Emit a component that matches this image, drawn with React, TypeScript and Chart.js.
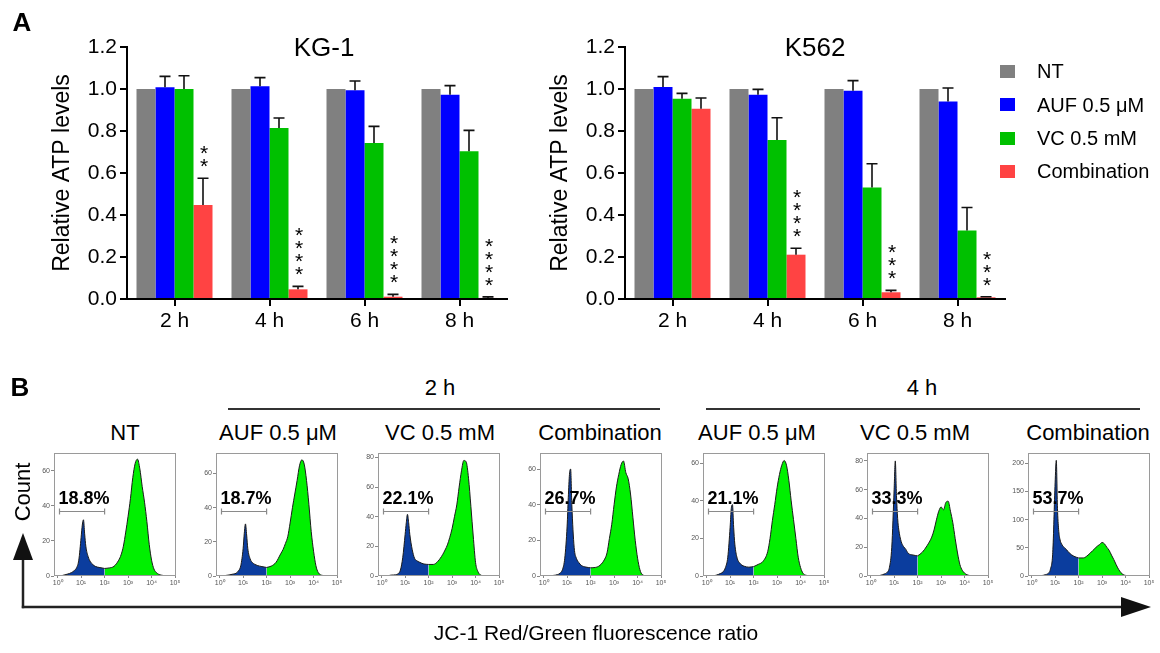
import React, { useEffect, useRef } from "react";
import { Chart, registerables } from "chart.js";

Chart.register(...registerables);

const FONT = "'Liberation Sans', Arial, Helvetica, sans-serif";

// ---------------- Panel A data ----------------
const TIME_POINTS = ["2 h", "4 h", "6 h", "8 h"];
const SERIES_LABELS = ["NT", "AUF 0.5 μM", "VC 0.5 mM", "Combination"];
const SERIES_COLORS = ["#808080", "#0000ff", "#00c000", "#ff4343"];
const Y_TICK_MIN = 0;
const Y_TICK_MAX = 1.2;
const Y_TICK_STEP = 0.2;

const KG1_NT = [1.0, 1.0, 1.0, 1.0];
const KG1_AUF = [1.008, 1.013, 0.994, 0.973];
const KG1_VC = [1.0, 0.814, 0.743, 0.703];
const KG1_COMB = [0.448, 0.046, 0.011, 0.005];
const KG1_NT_SD = [0, 0, 0, 0];
const KG1_AUF_SD = [0.052, 0.041, 0.044, 0.043];
const KG1_VC_SD = [0.063, 0.048, 0.079, 0.1];
const KG1_COMB_SD = [0.127, 0.014, 0.011, 0.005];
const KG1_STARS = [2, 4, 4, 4];

const K562_NT = [1.0, 1.0, 1.0, 1.0];
const K562_AUF = [1.01, 0.973, 0.992, 0.941];
const K562_VC = [0.954, 0.757, 0.531, 0.326];
const K562_COMB = [0.906, 0.211, 0.032, 0.008];
const K562_NT_SD = [0, 0, 0, 0];
const K562_AUF_SD = [0.049, 0.025, 0.048, 0.064];
const K562_VC_SD = [0.025, 0.106, 0.113, 0.11];
const K562_COMB_SD = [0.051, 0.031, 0.009, 0.003];
const K562_STARS = [0, 4, 3, 3];

// ---------------- Panel B data ----------------
// log10 of JC-1 red/green ratio at which counts were read
const FL_EXPONENTS = [0, 0.2, 0.4, 0.6, 0.7, 0.8, 0.9, 1.0, 1.05, 1.1, 1.15, 1.2, 1.3, 1.4, 1.5, 1.6, 1.8, 2.0, 2.2, 2.4, 2.6, 2.7, 2.8, 2.9, 3.0, 3.1, 3.2, 3.3, 3.4, 3.5, 3.6, 3.7, 3.8, 3.9, 4.0, 4.1, 4.2, 4.4, 4.7, 5.0];
const NT_COUNTS = [0, 0.3, 1, 2, 3, 4.5, 9, 22, 29, 32, 24, 17, 11, 8, 6.5, 5.5, 4.8, 4.3, 4.6, 5.5, 9, 12, 17, 25, 34, 44, 56, 64, 66.5, 61, 51, 42, 31, 18, 9, 4, 2, 0.5, 0.1, 0];
const AUF_2H_COUNTS = [0, 0.2, 0.6, 1.2, 1.6, 3, 6, 16, 25, 30.5, 24, 16, 10, 7.8, 6.8, 6.2, 5.5, 5.0, 5.8, 8, 13, 15.5, 19, 23, 31, 40, 48, 56, 64.5, 68, 65.5, 56, 42, 26, 14.5, 6, 2, 0.3, 0, 0];
const VC_2H_COUNTS = [0, 0, 0.6, 0.8, 1.5, 4, 12.6, 28, 36, 41.6, 36, 28, 18, 12, 10.3, 9.4, 8.1, 7.8, 7.8, 10, 14.5, 17.5, 21, 26, 32, 40, 48, 60, 71, 78, 77, 66, 47, 27, 9, 3, 0.8, 0.1, 0, 0];
const COMB_2H_COUNTS = [0, 0, 0.3, 0.8, 1.6, 3.5, 10, 28, 44, 57, 60, 40, 16, 9.8, 7.5, 6, 5, 4.6, 4.8, 6, 9.5, 13, 21, 29, 40, 50, 57, 62.5, 64.5, 58, 54.5, 46, 33, 20, 10, 3.5, 0.8, 0.1, 0, 0];
const AUF_4H_COUNTS = [0, 0, 0.4, 1.4, 2.2, 4.5, 10, 26, 36, 38, 26, 17, 9.5, 7, 5.8, 5.2, 4.7, 5, 6.2, 7.8, 13, 20, 29.6, 38, 47, 54, 59, 61.5, 59, 51, 40, 30, 20, 10, 4.5, 1.5, 0.5, 0.1, 0, 0];
const VC_4H_COUNTS = [0, 0, 0.4, 1.5, 2.5, 6, 20, 60, 80, 56, 40, 32, 24, 20.5, 18.5, 15.8, 14.6, 14, 16.5, 21, 27, 32, 39, 45, 48, 46, 51, 52, 45, 37, 26, 16, 8, 4, 2, 0.9, 0.4, 0.1, 0, 0];
const COMB_4H_COUNTS = [0, 0, 0.5, 2.5, 4.5, 12, 42, 165, 205, 120, 82, 66, 55, 50, 46, 41, 35, 32, 32, 37, 45, 49, 53, 56, 59.5, 57, 51, 45.5, 37, 29, 20, 12, 6, 2.5, 1, 0.4, 0.2, 0, 0, 0];

const HIST_COUNTS = [NT_COUNTS, AUF_2H_COUNTS, VC_2H_COUNTS, COMB_2H_COUNTS, AUF_4H_COUNTS, VC_4H_COUNTS, COMB_4H_COUNTS];
const HIST_LABELS = ["NT", "AUF 0.5 μM", "VC 0.5 mM", "Combination", "AUF 0.5 μM", "VC 0.5 mM", "Combination"];
const HIST_PERCENTS = ["18.8%", "18.7%", "22.1%", "26.7%", "21.1%", "33.3%", "53.7%"];
const HIST_YMAX = [70, 72, 83, 69, 65.5, 85.5, 218];
const HIST_YSTEP = [20, 20, 20, 20, 20, 20, 50];
const HIST_DECADES = [1, 10, 100, 1000, 10000, 100000];
const GATE_LOW = 1.2;
const GATE_HIGH = 100;
const SPLIT_EXPONENT = 2.0;

// ---------------- layout (not data) ----------------
const HIST_BOX_LEFT = [54, 216, 378, 540, 703, 867, 1028];
const HIST_LABEL_X = [125, 278, 440, 600, 757, 915, 1088];
const SUP = ["⁰", "¹", "²", "³", "⁴", "⁵"];

// ---------------- plugins ----------------
const errorBarPlugin = {
  id: "errorBars",
  afterDatasetsDraw(chart: any) {
    const { ctx } = chart;
    const y = chart.scales.y;
    chart.data.datasets.forEach((ds: any, di: number) => {
      const meta = chart.getDatasetMeta(di);
      meta.data.forEach((bar: any, i: number) => {
        const e = ds.errors[i];
        if (!e) return;
        const top = y.getPixelForValue(ds.data[i] + e);
        ctx.save();
        ctx.strokeStyle = "#111";
        ctx.lineWidth = 1.6;
        ctx.beginPath();
        ctx.moveTo(bar.x, bar.y);
        ctx.lineTo(bar.x, top);
        ctx.moveTo(bar.x - 5.5, top);
        ctx.lineTo(bar.x + 5.5, top);
        ctx.stroke();
        ctx.restore();
      });
    });
  },
};

function makeStarPlugin(stars: number[]) {
  return {
    id: "stars",
    afterDatasetsDraw(chart: any) {
      const { ctx } = chart;
      const y = chart.scales.y;
      const di = chart.data.datasets.length - 1;
      const ds: any = chart.data.datasets[di];
      const meta = chart.getDatasetMeta(di);
      ctx.save();
      ctx.fillStyle = "#000";
      ctx.font = `21px ${FONT}`;
      ctx.textAlign = "center";
      ctx.textBaseline = "alphabetic";
      meta.data.forEach((bar: any, i: number) => {
        const n = stars[i];
        const top = y.getPixelForValue(ds.data[i] + ds.errors[i]);
        for (let k = 0; k < n; k++) {
          const cy = top - 17 - k * 13;
          ctx.fillText("*", bar.x + 1, cy + 12);
        }
      });
      ctx.restore();
    },
  };
}

function makeHistPlugin(label: string) {
  return {
    id: "histDecor",
    afterDatasetsDraw(chart: any) {
      const { ctx, chartArea } = chart;
      const x = chart.scales.x;
      const x1 = x.getPixelForValue(GATE_LOW);
      const x2 = x.getPixelForValue(GATE_HIGH);
      const gy = Math.round(chartArea.bottom - 0.527 * (chartArea.bottom - chartArea.top)) + 0.5;
      ctx.save();
      ctx.strokeStyle = "#8a8a8a";
      ctx.lineWidth = 1.2;
      ctx.beginPath();
      ctx.moveTo(x1, gy);
      ctx.lineTo(x2, gy);
      ctx.moveTo(x1, gy - 3);
      ctx.lineTo(x1, gy + 3);
      ctx.moveTo(x2, gy - 3);
      ctx.lineTo(x2, gy + 3);
      ctx.stroke();
      ctx.fillStyle = "#000";
      ctx.font = `bold 18px ${FONT}`;
      ctx.textAlign = "left";
      ctx.textBaseline = "alphabetic";
      ctx.fillText(label, x1 - 1, gy - 8);
      ctx.strokeStyle = "#9a9a9a";
      ctx.lineWidth = 1;
      ctx.strokeRect(
        Math.round(chartArea.left) + 0.5,
        Math.round(chartArea.top) + 0.5,
        Math.round(chartArea.right - chartArea.left) - 1,
        Math.round(chartArea.bottom - chartArea.top) - 1
      );
      ctx.restore();
    },
  };
}

// ---------------- components ----------------
function BarPanel(props: { left: number; values: number[][]; errors: number[][]; stars: number[] }) {
  const ref = useRef<HTMLCanvasElement>(null);
  useEffect(() => {
    const chart = new Chart(ref.current as HTMLCanvasElement, {
      type: "bar",
      data: {
        labels: TIME_POINTS,
        datasets: SERIES_LABELS.map((label, i) => ({
          label,
          data: props.values[i],
          errors: props.errors[i],
          backgroundColor: SERIES_COLORS[i],
          borderWidth: 0,
          categoryPercentage: 0.8,
          barPercentage: 1.0,
        })) as any,
      },
      options: {
        animation: false,
        responsive: false,
        events: [],
        layout: { padding: { left: 49, right: 13, top: 47, bottom: 0 } },
        plugins: { legend: { display: false }, title: { display: false }, tooltip: { enabled: false } },
        scales: {
          x: {
            grid: { offset: false, drawOnChartArea: false, tickLength: 7, color: "#000", lineWidth: 2 },
            border: { display: true, color: "#000", width: 2 },
            ticks: { color: "#000", font: { size: 21, family: FONT }, padding: 3 },
            afterFit: (s: any) => {
              s.height = 41;
              s.paddingLeft = 0;
              s.paddingRight = 0;
            },
          },
          y: {
            min: Y_TICK_MIN,
            max: Y_TICK_MAX,
            ticks: {
              stepSize: Y_TICK_STEP,
              color: "#000",
              font: { size: 21, family: FONT },
              padding: 3,
              callback: (v: any) => Number(v).toFixed(1),
            },
            grid: { drawOnChartArea: false, tickLength: 7, color: "#000", lineWidth: 2 },
            border: { display: true, color: "#000", width: 2 },
            title: { display: true, text: "Relative ATP levels", color: "#000", font: { size: 23, family: FONT }, padding: 0 },
            afterFit: (s: any) => {
              s.width = 78;
              s.paddingTop = 0;
              s.paddingBottom = 0;
            },
          },
        },
      } as any,
      plugins: [errorBarPlugin, makeStarPlugin(props.stars)],
    });
    return () => chart.destroy();
  }, []);
  return (
    <canvas
      ref={ref}
      width={520}
      height={340}
      style={{ position: "absolute", left: props.left, top: 0, width: 520, height: 340 }}
    />
  );
}

function Histogram(props: { idx: number }) {
  const ref = useRef<HTMLCanvasElement>(null);
  const i = props.idx;
  useEffect(() => {
    const counts = HIST_COUNTS[i];
    const pts = FL_EXPONENTS.map((e, k) => ({ x: Math.pow(10, e), y: counts[k], e }));
    const blue = pts.filter((p) => p.e <= SPLIT_EXPONENT).map((p) => ({ x: p.x, y: p.y }));
    const green = pts.filter((p) => p.e >= SPLIT_EXPONENT).map((p) => ({ x: p.x, y: p.y }));
    const chart = new Chart(ref.current as HTMLCanvasElement, {
      type: "line",
      data: {
        datasets: [
          { data: blue, fill: "origin", backgroundColor: "#0b3d9e", borderColor: "#1a1a1a", borderWidth: 1 },
          { data: green, fill: "origin", backgroundColor: "#00f000", borderColor: "#1a1a1a", borderWidth: 1 },
        ],
      },
      options: {
        animation: false,
        responsive: false,
        events: [],
        layout: { padding: { left: 0, right: 6, top: 7, bottom: 0 } },
        plugins: { legend: { display: false }, tooltip: { enabled: false } },
        elements: { point: { radius: 0 }, line: { cubicInterpolationMode: "monotone" } },
        scales: {
          x: {
            type: "logarithmic",
            min: Math.pow(10, -0.14),
            max: Math.pow(10, 5.04),
            afterBuildTicks: (s: any) => {
              s.ticks = HIST_DECADES.map((v) => ({ value: v }));
            },
            ticks: {
              autoSkip: false,
              maxRotation: 0,
              color: "#555",
              font: { size: 7, family: FONT },
              padding: 1,
              callback: (v: any) => "10" + SUP[Math.round(Math.log10(Number(v)))],
            },
            grid: { drawOnChartArea: false, tickLength: 2, color: "#888" },
            border: { display: false },
            afterFit: (s: any) => {
              s.height = 20;
              s.paddingLeft = 0;
              s.paddingRight = 0;
            },
          },
          y: {
            min: 0,
            max: HIST_YMAX[i],
            ticks: {
              stepSize: HIST_YSTEP[i],
              includeBounds: false,
              color: "#555",
              font: { size: 7, family: FONT },
              padding: 1,
            },
            grid: { drawOnChartArea: false, tickLength: 3, color: "#888" },
            border: { display: false },
            afterFit: (s: any) => {
              s.width = 22;
              s.paddingTop = 0;
              s.paddingBottom = 0;
            },
          },
        },
      } as any,
      plugins: [makeHistPlugin(HIST_PERCENTS[i])],
    });
    return () => chart.destroy();
  }, []);
  return (
    <canvas
      ref={ref}
      width={150}
      height={150}
      style={{ position: "absolute", left: HIST_BOX_LEFT[i] - 22, top: 446, width: 150, height: 150 }}
    />
  );
}

function Txt(props: { x: number; y: number; size: number; bold?: boolean; align?: "center" | "left"; rotate?: boolean; children: any }) {
  const tx = props.align === "left" ? "0" : "-50%";
  return (
    <div
      style={{
        position: "absolute",
        left: props.x,
        top: props.y,
        transform: `translate(${tx}, -50%)${props.rotate ? " rotate(-90deg)" : ""}`,
        fontSize: props.size,
        fontWeight: props.bold ? "bold" : "normal",
        lineHeight: 1,
        whiteSpace: "nowrap",
        color: "#000",
        fontFamily: FONT,
      }}
    >
      {props.children}
    </div>
  );
}

export default function App() {
  const LEGEND_Y = [71, 104.5, 138, 171];
  return (
    <div style={{ position: "absolute", left: 0, top: 0, width: 1160, height: 653, background: "#fff", overflow: "hidden", fontFamily: FONT }}>
      <BarPanel
        left={0}
        values={[KG1_NT, KG1_AUF, KG1_VC, KG1_COMB]}
        errors={[KG1_NT_SD, KG1_AUF_SD, KG1_VC_SD, KG1_COMB_SD]}
        stars={KG1_STARS}
      />
      <BarPanel
        left={498}
        values={[K562_NT, K562_AUF, K562_VC, K562_COMB]}
        errors={[K562_NT_SD, K562_AUF_SD, K562_VC_SD, K562_COMB_SD]}
        stars={K562_STARS}
      />
      <Txt x={22} y={22} size={26} bold>A</Txt>
      <Txt x={324} y={47} size={26}>KG-1</Txt>
      <Txt x={815} y={47} size={26}>K562</Txt>
      {SERIES_LABELS.map((l, k) => (
        <React.Fragment key={k}>
          <div style={{ position: "absolute", left: 1000, top: LEGEND_Y[k] - 6.5, width: 15, height: 13, background: SERIES_COLORS[k] }} />
          <Txt x={1037} y={LEGEND_Y[k]} size={20} align="left">{l}</Txt>
        </React.Fragment>
      ))}

      <Txt x={20} y={387} size={26} bold>B</Txt>
      <Txt x={440} y={388} size={22}>2 h</Txt>
      <Txt x={922} y={388} size={22}>4 h</Txt>
      {HIST_LABELS.map((l, k) => (
        <Txt key={k} x={HIST_LABEL_X[k]} y={433} size={22}>{l}</Txt>
      ))}
      {HIST_LABELS.map((_, k) => (
        <Histogram key={k} idx={k} />
      ))}
      <svg width={1160} height={653} style={{ position: "absolute", left: 0, top: 0, pointerEvents: "none" }}>
        <line x1={228} y1={409} x2={660} y2={409} stroke="#333" strokeWidth={2} />
        <line x1={706} y1={409} x2={1140} y2={409} stroke="#333" strokeWidth={2} />
        <line x1={23} y1={556} x2={23} y2={608.2} stroke="#222" strokeWidth={2.5} />
        <polygon points="13,560 33,560 23,533" fill="#111" />
        <line x1={21.8} y1={607} x2={1125} y2={607} stroke="#222" strokeWidth={2.5} />
        <polygon points="1121,597 1121,617 1151,607" fill="#111" />
      </svg>
      <Txt x={23} y={492} size={22} rotate>Count</Txt>
      <Txt x={596} y={632} size={21}>JC-1 Red/Green fluorescence ratio</Txt>
    </div>
  );
}
